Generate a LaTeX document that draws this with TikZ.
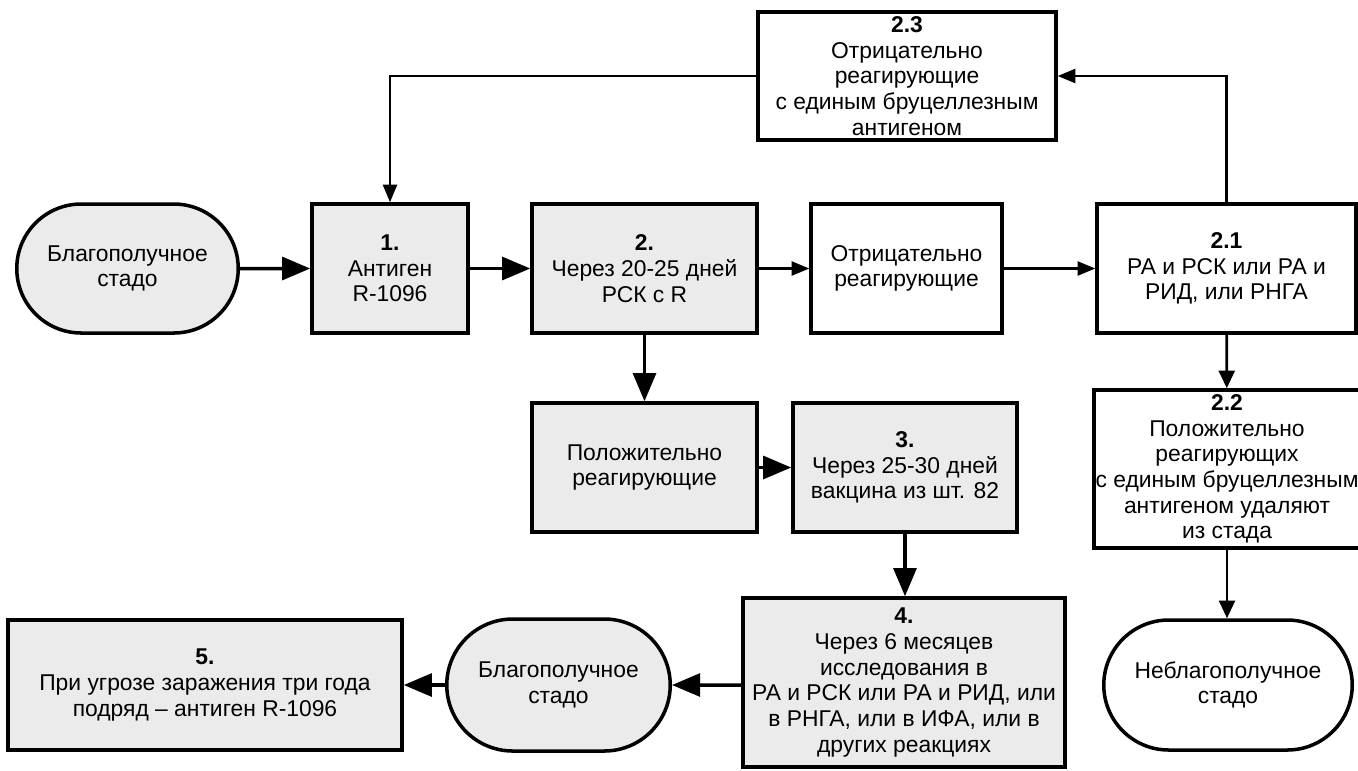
\documentclass[tikz,border=0pt]{standalone}
\usepackage{fontspec}
\setmainfont{Liberation Sans}
\usetikzlibrary{arrows.meta,positioning,shapes.misc}
\definecolor{boxgrey}{HTML}{EBEBEB}

\begin{document}
\begin{tikzpicture}[
    base/.style={draw,line width=2pt,align=center,inner sep=1pt,font=\fontsize{13}{14.6}\selectfont},
    greybox/.style={base,rectangle,fill=boxgrey},
    whitebox/.style={base,rectangle,fill=white},
    herd/.style={base,rounded rectangle},
    bigarrow/.style={->,line width=2pt,>={Triangle[length=16pt,width=13pt]}},
    midarrow/.style={->,line width=1.5pt,>={Triangle[length=10pt,width=9pt]}},
    smallarrow/.style={->,line width=1.2pt,>={Triangle[length=10pt,width=8pt]}}]

    \useasboundingbox (0,0) rectangle (27.16,-15.4);

    % top row
    \node[herd,fill=boxgrey,minimum width=4.5cm,minimum height=2.58cm] (herd1) at (2.55,-5.37) {Благополучное\\стадо};
    \node[greybox,minimum width=3.12cm,minimum height=2.58cm] (s1) at (7.8,-5.37) {\textbf{1.}\\Антиген\\R-1096};
    \node[greybox,minimum width=4.5cm,minimum height=2.58cm] (s2) at (12.89,-5.37) {\textbf{2.}\\Через 20-25 дней\\РСК с R};
    \node[whitebox,minimum width=3.82cm,minimum height=2.58cm] (neg) at (18.13,-5.37) {Отрицательно\\реагирующие};
    \node[whitebox,minimum width=5.18cm,minimum height=2.58cm] (s21) at (24.53,-5.37) {\textbf{2.1}\\РА и РСК или РА и\\РИД, или РНГА};
    \node[whitebox,minimum width=5.96cm,minimum height=2.56cm] (s23) at (18.14,-1.52) {\textbf{2.3}\\Отрицательно\\реагирующие\\с единым бруцеллезным\\антигеном};

    % middle row
    \node[greybox,minimum width=4.5cm,minimum height=2.58cm] (pos) at (12.89,-9.35) {Положительно\\реагирующие};
    \node[greybox,minimum width=4.48cm,minimum height=2.58cm] (s3) at (18.1,-9.35) {\textbf{3.}\\Через 25-30 дней\\вакцина из шт. 82};
    \node[whitebox,minimum width=5.16cm,minimum height=3.16cm] (s22) at (24.54,-9.38) {\textbf{2.2}\\Положительно\\реагирующих\\с единым бруцеллезным\\антигеном удаляют\\из стада};

    % bottom row
    \node[greybox,minimum width=6.44cm,minimum height=3.38cm] (s4) at (18.08,-13.65) {\textbf{4.}\\Через 6 месяцев\\исследования в\\РА и РСК или РА и РИД, или\\в РНГА, или в ИФА, или в\\других реакциях};
    \node[herd,fill=boxgrey,minimum width=4.54cm,minimum height=2.64cm] (herd2) at (11.17,-13.7) {Благополучное\\стадо};
    \node[greybox,minimum width=7.88cm,minimum height=2.6cm] (s5) at (4.1,-13.7) {\textbf{5.}\\При угрозе заражения три года\\подряд – антиген R-1096};
    \node[herd,fill=white,minimum width=5.04cm,minimum height=2.6cm] (bad) at (24.56,-13.7) {Неблагополучное\\стадо};

    \draw[bigarrow] (herd1) -- (s1);
    \draw[bigarrow] (s1) -- (s2);
    \draw[smallarrow] (s2) -- (neg);
    \draw[smallarrow] (neg) -- (s21);
    \draw[smallarrow] (s21.north) |- (s23.east);
    \draw[smallarrow] (s23.west) -| (s1.north);
    \draw[bigarrow] (s2) -- (pos);
    \draw[bigarrow] (pos) -- (s3);
    \draw[bigarrow] (s3) -- (s3 |- s4.north);
    \draw[midarrow] (s21) -- (s22);
    \draw[midarrow] (s22) -- (s22 |- bad.north);
    \draw[bigarrow] (s4.west |- herd2) -- (herd2);
    \draw[bigarrow] (herd2) -- (s5);

\end{tikzpicture}
\end{document}
